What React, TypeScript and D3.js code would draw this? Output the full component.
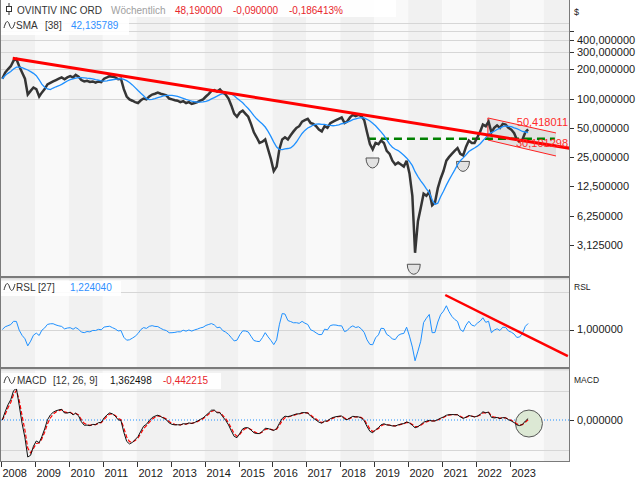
import React from 'react';
import * as d3 from 'd3';

// ---------- DATA (monthly closes, Jan 2008 .. Jul 2023) ----------
const closes: number[] = [
  160, 185, 200, 215, 245, 255, 215, 185, 160, 110, 120, 130, // 2008
  125, 105, 115, 125, 140, 145, 150, 155, 160, 165, 158, 165, // 2009
  170, 165, 175, 168, 155, 150, 152, 148, 150, 146, 150, 148, // 2010
  160, 165, 170, 168, 165, 158, 160, 125, 105, 98, 95, 92, // 2011
  90, 96, 100, 98, 105, 110, 112, 115, 112, 110, 108, 100, // 2012
  98, 96, 95, 92, 94, 90, 92, 88, 90, 92, 95, 98, // 2013
  105, 112, 120, 122, 118, 124, 115, 110, 100, 85, 70, 65, // 2014
  72, 75, 70, 65, 55, 45, 40, 35, 36, 38, 30, 24, // 2015
  18, 20, 30, 38, 40, 38, 42, 46, 50, 52, 58, 60, // 2016
  62, 56, 55, 52, 48, 46, 52, 50, 56, 58, 60, 62, // 2017
  64, 56, 58, 64, 68, 66, 68, 66, 60, 45, 34, 30, // 2018
  35, 34, 37, 35, 29, 27, 23, 21, 22, 21, 20, 23, // 2019
  17, 10, 2.6, 5.5, 7.5, 10.5, 10, 11, 8, 8.5, 12, 15, // 2020
  18, 23, 25, 27, 29, 31, 27, 26, 32, 37, 35, 35, // 2021
  40, 46, 54, 52, 58, 45, 50, 53, 50, 55, 54, 50, // 2022
  48, 44, 38, 36, 38, 45, 48.19, // 2023
];

const yearTicks: number[] = d3.range(2008, 2024);
const stripeYears: number[] = d3.range(2008, 2025);
const priceLabelValues: number[] = [400, 300, 200, 100, 50, 25, 12.5, 6.25, 3.125];
const priceLabelTexts: string[] = [
  '400,000000', '300,000000', '200,000000', '100,000000', '50,000000',
  '25,000000', '12,500000', '6,250000', '3,125000',
];
const priceGridValues: number[] = [100, 200, 300, 400, 500, 600];
const priceExtraTicks: number[] = [500];

const SMA_PERIOD = 9; // 38 weeks
const RSL_PERIOD = 6; // 27 weeks
const MACD_FAST = 3, MACD_SLOW = 6, MACD_SIG = 2; // 12, 26, 9 weeks

// annotations (data coordinates)
const mainTrend = [
  { d: new Date(2008, 4, 6), p: 259.6 },
  { d: new Date(2024, 9, 10), p: 30.8 },
];
const greenLevel = { from: new Date(2018, 9, 25), to: new Date(2024, 3, 28), p: 38.6 };
const channel = {
  from: new Date(2022, 4, 8),
  to: new Date(2024, 4, 10),
  upper: [63.2, 44.3],
  lower: [37.5, 25.7],
};
const channelLabels = ['50,418011', '30,101298'];
const bowls = [
  { d: new Date(2018, 11, 13), p: 24.5 },
  { d: new Date(2020, 2, 1), p: 1.98 },
  { d: new Date(2021, 7, 13), p: 22.6 },
];
const rslTrend = [
  { d: new Date(2021, 1, 3), v: 1.92 },
  { d: new Date(2024, 8, 15), v: 0.29 },
];
const macdCircle = { d: new Date(2023, 6, 24), rel: -0.12 };

// ---------- helpers ----------
const sma = (arr: number[], n: number) =>
  arr.map((_, i) => d3.mean(arr.slice(Math.max(0, i - n + 1), i + 1)) as number);
const ema = (arr: number[], n: number) => {
  const a = 2 / (n + 1);
  const out: number[] = [];
  arr.forEach((v, i) => out.push(i === 0 ? v : a * v + (1 - a) * out[i - 1]));
  return out;
};

const FONT = "'Liberation Sans', Arial, sans-serif";
const L = 1, R = 569;
const MAIN_T = 0, MAIN_B = 276;
const RSL_T = 279, RSL_B = 367;
const MACD_T = 370, MACD_B = 461;

const wave = (x0: number, yc: number) =>
  `M${x0},${yc + 3} C${x0 + 2},${yc - 5} ${x0 + 4},${yc - 5} ${x0 + 5.5},${yc} C${x0 + 7},${yc + 5} ${x0 + 9},${yc + 5} ${x0 + 11},${yc - 3}`;

export default function App() {
  const dates = closes.map((_, i) => new Date(2008, i, 15));
  const x = d3.scaleTime().domain([new Date(2008, 0, 1), new Date(2023, 0, 1)]).range([1, 510]);
  const yP = d3.scaleLog().base(2).domain([3.125, 400]).range([245, 40]);
  const yR = d3.scaleLinear().domain([0, 2]).range([367, 292]);

  const smaVals = sma(closes, SMA_PERIOD);
  const rslBase = sma(closes, RSL_PERIOD);
  const rsl = closes.map((c, i) => c / rslBase[i]);
  const eF = ema(closes, MACD_FAST);
  const eS = ema(closes, MACD_SLOW);
  const macd = eF.map((v, i) => v - eS[i]);
  const signal = ema(macd, MACD_SIG);
  const mMin = d3.min(macd) as number;
  const yM = d3.scaleLinear().domain([mMin, 0]).range([457, 420]);
  const G = (-mMin * 29.5) / 37;

  const priceLine = d3.line<number>().x((_, i) => x(dates[i])).y((d) => yP(d));
  const rslLine = d3.line<number>().x((_, i) => x(dates[i])).y((d) => yR(d));
  const macdLine = d3.line<number>().x((_, i) => x(dates[i])).y((d) => yM(d));

  const stripes = (top: number, bottom: number) =>
    stripeYears.map((yr) => {
      const x0 = Math.max(L, x(new Date(yr, 0, 1)));
      const x1 = Math.min(R, x(new Date(yr + 1, 0, 1)));
      return (
        <rect key={yr} x={x0} y={top} width={Math.max(0, x1 - x0)} height={bottom - top}
          fill={yr % 2 === 0 ? '#f1f1f1' : '#f9f9f9'} />
      );
    });

  const chX0 = x(channel.from), chX1 = x(channel.to);
  const chPoly = [
    [chX0, yP(channel.upper[0])], [chX1, yP(channel.upper[1])],
    [chX1, yP(channel.lower[1])], [chX0, yP(channel.lower[0])],
  ];

  const bowlPath = (cx: number, cy: number) =>
    `M${cx - 6.5},${cy} A6.5,10 0 0 0 ${cx + 6.5},${cy} Z`;

  return (
    <svg width={640} height={480} style={{ position: 'absolute', left: 0, top: 0, background: '#fff' }}
      fontFamily={FONT}>
      <defs>
        <clipPath id="cMain"><rect x={L} y={MAIN_T} width={R - L} height={MAIN_B - MAIN_T} /></clipPath>
        <clipPath id="cRsl"><rect x={L} y={RSL_T} width={R - L} height={RSL_B - RSL_T} /></clipPath>
        <clipPath id="cMacd"><rect x={L} y={MACD_T} width={R - L} height={MACD_B - MACD_T} /></clipPath>
      </defs>

      {/* ---------- MAIN PANEL ---------- */}
      <g clipPath="url(#cMain)">
        {stripes(MAIN_T, MAIN_B)}
        {priceGridValues.map((v) => (
          <line key={v} x1={L} x2={R} y1={Math.round(yP(v)) + 0.5} y2={Math.round(yP(v)) + 0.5}
            stroke="#d6d6d6" />
        ))}
        {/* channel */}
        <polygon points={chPoly.map((p) => p.join(',')).join(' ')} fill="#d9d9d9" fillOpacity={0.7} />
        <line x1={chX0} x2={chX1} y1={yP(channel.upper[0])} y2={yP(channel.upper[1])} stroke="#ff2020" strokeWidth={1} />
        <line x1={chX0} x2={chX1} y1={yP(channel.lower[0])} y2={yP(channel.lower[1])} stroke="#ff2020" strokeWidth={1} />
        <line x1={chX0} x2={chX0} y1={yP(channel.upper[0])} y2={yP(channel.lower[0])} stroke="#ff2020" strokeWidth={1} />
        {/* bowls */}
        {bowls.map((b, i) => (
          <path key={i} d={bowlPath(x(b.d), yP(b.p))} fill="#e2e2e2" stroke="#555" strokeWidth={1} />
        ))}
        {/* green level */}
        <line x1={x(greenLevel.from)} x2={x(greenLevel.to)} y1={yP(greenLevel.p)} y2={yP(greenLevel.p)}
          stroke="#008000" strokeWidth={2.5} strokeDasharray="8,5" />
        {/* price */}
        <path d={priceLine(closes) || ''} fill="none" stroke="#353535" strokeWidth={2.5} strokeLinejoin="miter" strokeMiterlimit={3} />
        {/* SMA */}
        <path d={priceLine(smaVals) || ''} fill="none" stroke="#1e90ff" strokeWidth={1.3} />
        {/* main trendline */}
        <line x1={x(mainTrend[0].d)} y1={yP(mainTrend[0].p)} x2={x(mainTrend[1].d)} y2={yP(mainTrend[1].p)}
          stroke="#ff0000" strokeWidth={3} />
        {/* channel labels */}
        <text x={568} y={yP(channel.upper[1]) - 7} textAnchor="end" fontSize={11} fill="#ff2a2a">{channelLabels[0]}</text>
        <text x={568} y={yP(channel.lower[1]) - 9} textAnchor="end" fontSize={11} fill="#ff2a2a">{channelLabels[1]}</text>
      </g>

      {/* header rows */}
      <rect x={L} y={0} width={395} height={17} fill="#fff" fillOpacity={0.9} />
      <rect x={L} y={17} width={128} height={18} fill="#fff" fillOpacity={0.9} />
      <line x1={9} x2={9} y1={3} y2={15} stroke="#333" />
      <rect x={6.5} y={6.5} width={5} height={5} fill="#fff" stroke="#333" />
      <text x={17} y={14} fontSize={10} fill="#333">OVINTIV INC ORD</text>
      <text x={111} y={14} fontSize={10} fill="#a0a0a0">Wöchentlich</text>
      <text x={175} y={14} fontSize={10} fill="#e8262c">48,190000</text>
      <text x={233} y={14} fontSize={10} fill="#e8262c">-0,090000</text>
      <text x={289} y={14} fontSize={10} fill="#e8262c">-0,186413%</text>
      <path d={wave(4, 25)} fill="none" stroke="#333" strokeWidth={1} />
      <text x={16} y={29} fontSize={10} fill="#333">SMA</text>
      <text x={45} y={29} fontSize={10} fill="#333">[38]</text>
      <text x={71} y={29} fontSize={10} fill="#3090ff">42,135789</text>

      {/* ---------- RSL PANEL ---------- */}
      <g clipPath="url(#cRsl)">
        {stripes(RSL_T, RSL_B)}
        {[2, 1].map((v) => (
          <line key={v} x1={L} x2={R} y1={Math.round(yR(v)) + 0.5} y2={Math.round(yR(v)) + 0.5} stroke="#d6d6d6" />
        ))}
        <path d={rslLine(rsl) || ''} fill="none" stroke="#1e90ff" strokeWidth={1} />
        <line x1={x(rslTrend[0].d)} y1={yR(rslTrend[0].v)} x2={x(rslTrend[1].d)} y2={yR(rslTrend[1].v)}
          stroke="#ff0000" strokeWidth={2.5} />
      </g>
      <rect x={L} y={281} width={120} height={15} fill="#fff" fillOpacity={0.9} />
      <path d={wave(4, 287)} fill="none" stroke="#333" strokeWidth={1} />
      <text x={16} y={291} fontSize={10} fill="#333">RSL</text>
      <text x={38} y={291} fontSize={10} fill="#333">[27]</text>
      <text x={70} y={291} fontSize={10} fill="#3090ff">1,224040</text>

      {/* ---------- MACD PANEL ---------- */}
      <g clipPath="url(#cMacd)">
        {stripes(MACD_T, MACD_B)}
        {[G, -G].map((v, i) => (
          <line key={i} x1={L} x2={R} y1={Math.round(yM(v)) + 0.5} y2={Math.round(yM(v)) + 0.5} stroke="#d6d6d6" />
        ))}
        <line x1={L} x2={R} y1={yM(0)} y2={yM(0)} stroke="#1e90ff" strokeWidth={1} strokeDasharray="1,2" />
        <circle cx={x(macdCircle.d)} cy={yM(macdCircle.rel * G)} r={13.5} fill="#dce8d4" stroke="#555" />
        <path d={macdLine(signal) || ''} fill="none" stroke="#ff0000" strokeWidth={1.2} strokeDasharray="4,2" />
        <path d={macdLine(macd) || ''} fill="none" stroke="#111" strokeWidth={1} />
      </g>
      <rect x={L} y={373} width={220} height={16} fill="#fff" fillOpacity={0.9} />
      <path d={wave(4, 380)} fill="none" stroke="#333" strokeWidth={1} />
      <text x={17} y={384} fontSize={10} fill="#333">MACD</text>
      <text x={53} y={384} fontSize={10} fill="#333">[12, 26, 9]</text>
      <text x={110} y={384} fontSize={10} fill="#111">1,362498</text>
      <text x={163} y={384} fontSize={10} fill="#e8262c">-0,442215</text>

      {/* ---------- borders & separators ---------- */}
      <rect x={0} y={276} width={R} height={2} fill="#7a7a7a" />
      <rect x={0} y={278} width={R} height={1.5} fill="#dcdcdc" />
      <rect x={0} y={367} width={R} height={2} fill="#7a7a7a" />
      <rect x={0} y={369} width={R} height={1.5} fill="#dcdcdc" />
      <line x1={0.5} x2={0.5} y1={0} y2={MACD_B} stroke="#7a7a7a" />
      <line x1={R + 0.5} x2={R + 0.5} y1={0} y2={MACD_B + 0.5} stroke="#7a7a7a" />
      <line x1={0} x2={R + 1} y1={MACD_B + 0.5} y2={MACD_B + 0.5} stroke="#7a7a7a" />

      {/* ---------- right axes ---------- */}
      <text x={574} y={15} fontSize={9} fill="#222">$</text>
      {priceLabelValues.map((v, i) => (
        <g key={v}>
          <line x1={R + 1} x2={R + 5} y1={Math.round(yP(v)) + 0.5} y2={Math.round(yP(v)) + 0.5} stroke="#333" />
          <text x={577} y={yP(v)} dy="0.36em" fontSize={11} fill="#1a1a1a">{priceLabelTexts[i]}</text>
        </g>
      ))}
      {priceExtraTicks.map((v) => (
        <line key={v} x1={R + 1} x2={R + 5} y1={Math.round(yP(v)) + 0.5} y2={Math.round(yP(v)) + 0.5} stroke="#333" />
      ))}
      <text x={574} y={290} fontSize={8.5} fill="#222">RSL</text>
      <line x1={R + 1} x2={R + 5} y1={Math.round(yR(1)) + 0.5} y2={Math.round(yR(1)) + 0.5} stroke="#333" />
      <text x={577} y={yR(1)} dy="0.36em" fontSize={11} fill="#1a1a1a">1,000000</text>
      <text x={574} y={383} fontSize={8.5} fill="#222">MACD</text>
      <line x1={R + 1} x2={R + 5} y1={Math.round(yM(0)) + 0.5} y2={Math.round(yM(0)) + 0.5} stroke="#333" />
      <text x={577} y={yM(0)} dy="0.36em" fontSize={11} fill="#1a1a1a">0,000000</text>

      {/* ---------- x axis ---------- */}
      {yearTicks.map((yr) => {
        const xx = Math.round(x(new Date(yr, 0, 1))) + 0.5;
        return (
          <g key={yr}>
            <line x1={xx} x2={xx} y1={MACD_B + 1} y2={MACD_B + 6} stroke="#333" />
            <text x={xx + 1} y={477} fontSize={11} fill="#1a1a1a">{yr}</text>
          </g>
        );
      })}
    </svg>
  );
}
